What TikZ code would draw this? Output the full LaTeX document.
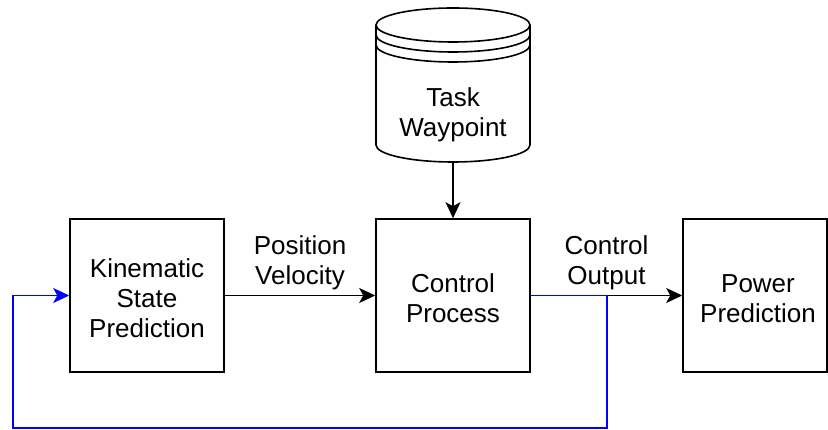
\documentclass[tikz,border=0pt]{standalone}
\usepackage{fontspec}
\setmainfont{Liberation Sans}
\usetikzlibrary{arrows.meta}
\begin{document}
\begin{tikzpicture}[x=1pt,y=1pt,
  blk/.style={draw=black,line width=1.6pt,minimum width=154pt,minimum height=153pt,inner sep=0pt},
  conn/.style={line width=1.6pt,-{Stealth[length=16pt,width=15pt,inset=4pt]}},
  fb/.style={draw=blue,line width=1.2pt,-{Stealth[length=16pt,width=15pt,inset=4pt]}},
  lbl/.style={align=center,font=\fontsize{26}{30}\selectfont,inner sep=0pt}]
\useasboundingbox (0,0) rectangle (828,430);
% boxes
\node[blk,label={[lbl,yshift=-3pt]center:Kinematic\\State\\Prediction}] (kin) at (147,134.5) {};
\node[blk,label={[lbl,yshift=-3pt]center:Control\\Process}] (ctrl) at (453,134.5) {};
\node[blk,minimum width=144pt,label={[lbl,yshift=-3pt,xshift=3pt]center:Power\\Prediction}] (pow) at (755,134.5) {};
% cylinder
\draw[line width=1.6pt] (453,405) ellipse[x radius=77,y radius=17];
\draw[line width=1.6pt] (376,395) arc[start angle=180,end angle=360,x radius=77,y radius=17];
\draw[line width=1.6pt] (376,385) arc[start angle=180,end angle=360,x radius=77,y radius=17];
\draw[line width=1.6pt] (376,405) -- (376,285) arc[start angle=180,end angle=360,x radius=77,y radius=17] -- (530,405);
\node[lbl] (tw) at (453,315) {Task\\Waypoint};
\coordinate (cylbot) at (453,268);
% connectors
\draw[conn] (cylbot) -- (ctrl.north);
\draw[conn] (kin.east) -- node[lbl,above=6pt,yshift=-1pt] (pv) {Position\\Velocity} (ctrl.west);
\draw[conn] (ctrl.east) -- node[lbl,above=6pt,yshift=-1pt] (co) {Control\\Output} (pow.west);
% feedback
\coordinate (fb1) at (607,134.5);
\coordinate (fb2) at (607,2);
\coordinate (fb3) at (13,2);
\coordinate (fb4) at (13,134.5);
\draw[fb] (ctrl.east) -- (fb1) -- (fb2) -- (fb3) -- (fb4) -- (kin.west);
\end{tikzpicture}
\end{document}
